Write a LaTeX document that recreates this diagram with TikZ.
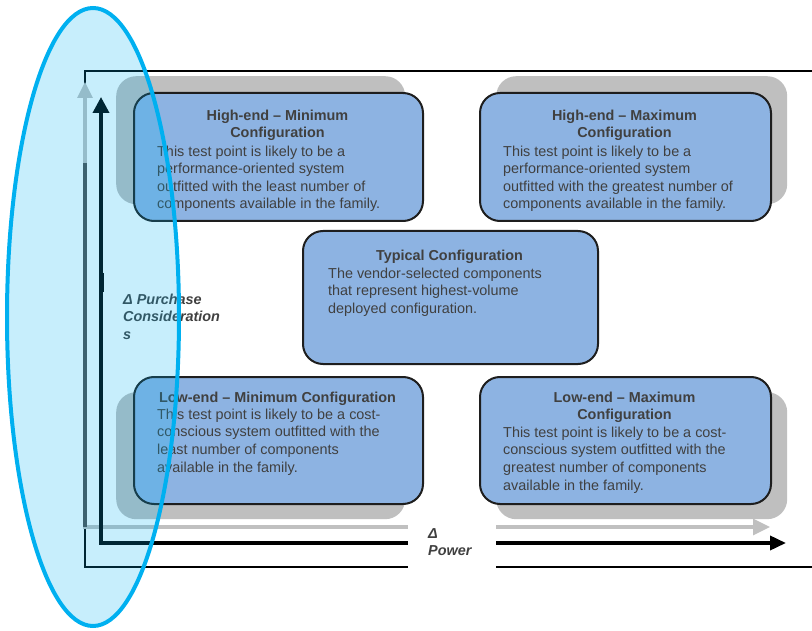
\documentclass[tikz,border=0pt]{standalone}
\usepackage{fontspec}
\setmainfont{Liberation Sans}
\usetikzlibrary{arrows.meta,shapes.geometric}
\definecolor{boxblue}{HTML}{8DB3E2}
\definecolor{shadowgray}{HTML}{BFBFBF}
\definecolor{txtgray}{HTML}{404040}
\definecolor{ellcyan}{HTML}{00B0F0}
\definecolor{edgegray}{HTML}{1E1E1E}
\definecolor{axisgray}{HTML}{C0C0C0}
\definecolor{axisdark}{HTML}{4D4D4D}
\newcommand{\fs}{\rule{0pt}{11pt}}
\begin{document}
\begin{tikzpicture}[x=1pt,y=-1pt,
  cfgbox/.style={draw=edgegray, line width=2pt, fill=boxblue, rounded corners=20pt, inner sep=0pt, anchor=north west},
  shadowbox/.style={fill=shadowgray, rounded corners=20pt, inner sep=0pt, anchor=north west},
  txt/.style={inner sep=0pt, text=txtgray, font=\fontsize{14.4pt}{17.6pt}\selectfont},
  titletxt/.style={txt, font=\fontsize{14.4pt}{17.6pt}\selectfont\bfseries, align=center, anchor=north},
  bodytxt/.style={txt, align=left, anchor=north west},
  axislabel/.style={txt, font=\fontsize{14.4pt}{17.5pt}\selectfont\bfseries\itshape, align=left, anchor=north west},
  frameline/.style={draw=black, line width=2.2pt},
  grayaxis/.style={draw=axisgray, line width=3.2pt, {Triangle[length=16pt,width=15pt]}-{Triangle[length=17pt,width=16pt]}},
  blackaxis/.style={draw=black, line width=3.6pt, {Triangle[length=16pt,width=16pt]}-{Triangle[length=16pt,width=14pt]}}
]
\useasboundingbox (0,0) rectangle (812,631);

% frame
\coordinate (frTR) at (813,71);
\coordinate (frBL) at (85,567);
\coordinate (frBR) at (813,567);
\draw[frameline] (frTR) -| (frBL) -- (frBR);

% gray axes
\coordinate (gyTip) at (85,82);
\coordinate (gxTip) at (770,527);
\coordinate (gySeg1) at (85,163);
\coordinate (gySeg2) at (85,527);
\draw[grayaxis] (gyTip) |- (gxTip);
\draw[draw=axisdark, line width=3.4pt] (gySeg1) -- (gySeg2);

% black axes
\coordinate (byTip) at (101,97);
\coordinate (bxTip) at (786,543);
\draw[blackaxis] (byTip) |- (bxTip);
\coordinate (bSeg1) at (101,273);
\coordinate (bSeg2) at (101,292);
\draw[draw=black, line width=5pt] (bSeg1) -- (bSeg2);

% shadows
\node[shadowbox, minimum width=289pt, minimum height=128pt] (tlS) at (116,76) {};
\node[shadowbox, minimum width=291pt, minimum height=128pt] (trS) at (496,76) {};
\node[shadowbox, minimum width=289pt, minimum height=127pt] (blS) at (116,392) {};
\node[shadowbox, minimum width=291pt, minimum height=127pt] (brS) at (496,392) {};

% boxes
\node[cfgbox, minimum width=289pt, minimum height=128pt] (tl) at (133,92) {};
\node[cfgbox, minimum width=291pt, minimum height=128pt] (tr) at (479,92) {};
\node[cfgbox, minimum width=295pt, minimum height=133pt] (ct) at (302,230) {};
\node[cfgbox, minimum width=289pt, minimum height=127pt] (bl) at (133,376) {};
\node[cfgbox, minimum width=291pt, minimum height=127pt] (br) at (479,376) {};

% texts
\node[titletxt] (tlT) at (277.5,109) {\fs High-end – Minimum\\Configuration};
\node[bodytxt] (tlB) at (157,145) {\fs This test point is likely to be a\\performance-oriented system\\outfitted with the least number of\\components available in the family.};

\node[titletxt] (trT) at (624.5,109) {\fs High-end – Maximum\\Configuration};
\node[bodytxt] (trB) at (503,145) {\fs This test point is likely to be a\\performance-oriented system\\outfitted with the greatest number of\\components available in the family.};

\node[titletxt] (ctT) at (449.5,249) {\fs Typical Configuration};
\node[bodytxt] (ctB) at (328,267) {\fs The vendor-selected components\\that represent highest-volume\\deployed configuration.};

\node[titletxt] (blT) at (277.5,391) {\fs Low-end – Minimum Configuration};
\node[bodytxt] (blB) at (157,408) {\fs This test point is likely to be a cost-\\conscious system outfitted with the\\least number of components\\available in the family.};

\node[titletxt] (brT) at (624.5,391) {\fs Low-end – Maximum\\Configuration};
\node[bodytxt] (brB) at (503,426) {\fs This test point is likely to be a cost-\\conscious system outfitted with the\\greatest number of components\\available in the family.};

% axis labels
\node[axislabel] (purch) at (123,293) {\fs Δ Purchase\\Consideration\\s};
\node[fill=white, inner sep=0pt, anchor=north west, minimum width=88pt, minimum height=49pt] (powbg) at (408,521) {};
\node[axislabel] (pow) at (428,527) {\fs Δ\\Power};

% ellipse
\node[draw=ellcyan, line width=4pt, fill=ellcyan, fill opacity=0.22, ellipse, minimum width=172pt, minimum height=618pt, inner sep=0pt] (ell) at (93,317) {};
\end{tikzpicture}
\end{document}
